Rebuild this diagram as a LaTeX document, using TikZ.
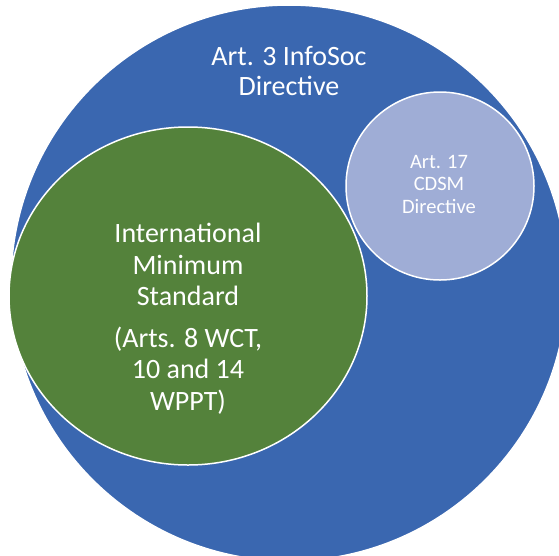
\documentclass[tikz,border=0pt]{standalone}
\usepackage{fontspec}
\setmainfont{Carlito}
\usetikzlibrary{shapes.geometric,positioning}

\definecolor{infoblue}{RGB}{58,103,176}
\definecolor{wipogreen}{RGB}{84,130,59}
\definecolor{cdsmlight}{RGB}{159,173,214}

\begin{document}
\begin{tikzpicture}[x=1pt,y=-1pt,line width=1.5pt]
	\tikzstyle{label text}=[text=white,align=center,anchor=base,inner sep=0pt]
	\tikzstyle{area}=[draw=white,inner sep=0pt]
	\useasboundingbox (0,0) rectangle (559,555);

	\node[area,circle,fill=infoblue,minimum size=556pt] (infosoc) at (289,283) {};
	\node[area,ellipse,fill=wipogreen,minimum width=358pt,minimum height=338pt] (minimum) at (188,296) {};
	\node[area,circle,fill=cdsmlight,minimum size=188pt] (cdsm) at (440,186) {};

	% anchor base sits on the last line
	\node[label text,font=\fontsize{28}{30}\selectfont] (infosoctext) at (289,95)
		{Art. 3 InfoSoc\\Directive};
	\node[label text,font=\fontsize{28}{31.3}\selectfont] (minimumtext) at (188,410)
		{International\\Minimum\\Standard\\[10.7pt](Arts. 8 WCT,\\10 and 14\\WPPT)};
	\node[label text,font=\fontsize{20.5}{22.5}\selectfont] (cdsmtext) at (439,213)
		{Art. 17\\CDSM\\Directive};
\end{tikzpicture}
\end{document}
